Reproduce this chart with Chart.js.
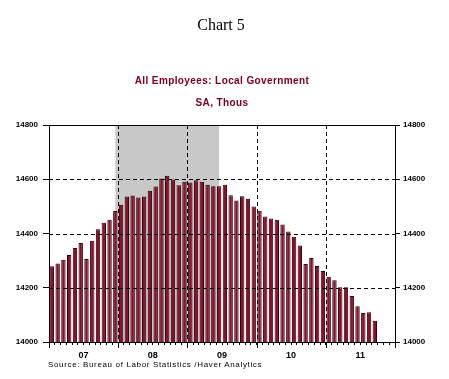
<!DOCTYPE html>
<html>
<head>
<meta charset="utf-8">
<script src="https://cdn.jsdelivr.net/npm/chart.js"></script>
<style>
  body { margin: 0; background: #fff; }
  #wrap { position: relative; width: 449px; height: 379px; }
  canvas { position: absolute; left: 0; top: 0; }
  .txt { position: absolute; white-space: nowrap; }
  #chartNo { left: 0; width: 442px; top: 16px; text-align: center; font: 16px "Liberation Serif", serif; color: #000; }
  .red { left: 0; width: 444px; text-align: center; font: bold 10px "Liberation Sans", Arial, sans-serif; color: #800024; letter-spacing: 0.4px; }
  #src { left: 48px; top: 360px; font: 8px "Liberation Sans", Arial, sans-serif; color: #000; letter-spacing: 0.65px; }
</style>
</head>
<body>
<div id="wrap">
  <canvas id="c" width="449" height="379"></canvas>
  <div class="txt" id="chartNo">Chart 5</div>
  <div class="txt red" style="top:75px">All Employees: Local Government</div>
  <div class="txt red" style="top:97px">SA, Thous</div>
  <div class="txt" id="src">Source:  Bureau of Labor Statistics /Haver Analytics</div>
</div>
<script>
// années affichées sur l'axe x (jan 2007 - déc 2011)
const years = ['07', '08', '09', '10', '11'];
const months = ['Jan', 'Feb', 'Mar', 'Apr', 'May', 'Jun', 'Jul', 'Aug', 'Sep', 'Oct', 'Nov', 'Dec'];
const monthLabels = years.flatMap(yy => months.map(m => m + ' ' + yy));

// Emploi administrations locales, milliers (jan 2007 - sep 2011)
const localGov = [
  14279, 14289, 14303, 14321, 14347, 14365, 14306, 14373, 14416, 14440, 14451, 14483,
  14506, 14536, 14540, 14533, 14536, 14558, 14573, 14603, 14613, 14599, 14578, 14591,
  14588, 14596, 14591, 14580, 14574, 14574, 14580, 14541, 14522, 14537, 14528, 14500,
  14484, 14463, 14455, 14451, 14433, 14407, 14388, 14356, 14288, 14310, 14280, 14262,
  14241, 14228, 14202, 14202, 14170, 14132, 14107, 14110, 14078
];

// récession : déc 2007 -> juin 2009 (index des mois)
const recession = [11, 29];
const yTicks = [14000, 14200, 14400, 14600, 14800];
const gridValues = [14200, 14400, 14600];

const tickFont = { family: 'Liberation Sans', size: 8, weight: 'bold' };

const decor = {
  id: 'decor',
  beforeDatasetsDraw(chart) {
    const { ctx, chartArea: a, scales: { x } } = chart;
    ctx.save();
    ctx.fillStyle = '#c8c8c8';
    const x0 = x.getPixelForValue(recession[0]);
    const x1 = x.getPixelForValue(recession[1]);
    ctx.fillRect(x0, a.top, x1 - x0, a.bottom - a.top);
    ctx.restore();
  },
  afterDatasetsDraw(chart) {
    const { ctx, chartArea: a, scales: { x, y } } = chart;
    ctx.save();
    ctx.strokeStyle = '#000';
    ctx.lineWidth = 1;
    ctx.setLineDash([4, 3]);
    gridValues.forEach(v => {
      const py = Math.round(y.getPixelForValue(v)) + 0.5;
      ctx.beginPath(); ctx.moveTo(a.left, py); ctx.lineTo(a.right, py); ctx.stroke();
    });
    for (let i = 0; i < years.length; i++) {
      const px = Math.round(x.getPixelForValue(i * 12 - 0.5)) + 0.5;
      ctx.beginPath(); ctx.moveTo(px, a.top); ctx.lineTo(px, a.bottom); ctx.stroke();
    }
    // cadre du haut + grands traits des années
    ctx.setLineDash([]);
    ctx.beginPath();
    ctx.moveTo(a.left, Math.round(a.top) + 0.5);
    ctx.lineTo(a.right, Math.round(a.top) + 0.5);
    ctx.stroke();
    for (let i = 0; i <= years.length; i++) {
      const px = Math.round(x.getPixelForValue(i * 12 - 0.5)) + 0.5;
      ctx.beginPath(); ctx.moveTo(px, a.bottom); ctx.lineTo(px, a.bottom + 6); ctx.stroke();
    }
    ctx.restore();
  }
};

const config = {
  type: 'bar',
  data: {
    labels: monthLabels,
    datasets: [{
      label: 'All Employees: Local Government',
      data: localGov,
      backgroundColor: '#8e0f2c',
      borderColor: '#2a0008',
      borderWidth: 1,
      barPercentage: 0.76,
      categoryPercentage: 1
    }]
  },
  options: {
    responsive: false,
    animation: false,
    layout: { padding: { top: 125, left: 0, right: 0, bottom: 0 } },
    plugins: { legend: { display: false }, tooltip: { enabled: false } },
    scales: {
      x: {
        offset: true,
        grid: { offset: true, drawOnChartArea: false, tickLength: 3, color: '#000' },
        border: { display: true, color: '#000' },
        ticks: {
          autoSkip: false, maxRotation: 0, minRotation: 0,
          padding: 5, labelOffset: -3, color: '#000',
          font: { family: 'Liberation Sans', size: 9, weight: 'bold' },
          callback: (v, i) => (i % 12 === 6 ? years[Math.floor(i / 12)] : '')
        },
        afterFit: s => { s.height = 37; }
      },
      y: {
        position: 'left',
        min: 14000, max: 14800,
        afterBuildTicks: s => { s.ticks = yTicks.map(v => ({ value: v })); },
        grid: { drawOnChartArea: false, tickLength: 6, color: '#000' },
        border: { display: true, color: '#000', dash: [4, 3] },
        ticks: { padding: 5, color: '#000', font: tickFont, callback: v => String(v) },
        afterFit: s => { s.width = 49; }
      },
      y2: {
        position: 'right',
        min: 14000, max: 14800,
        afterBuildTicks: s => { s.ticks = yTicks.map(v => ({ value: v })); },
        grid: { drawOnChartArea: false, tickLength: 5, color: '#000' },
        border: { display: true, color: '#000' },
        ticks: { padding: 3, color: '#000', font: tickFont, callback: v => String(v) },
        afterFit: s => { s.width = 54; }
      }
    }
  },
  plugins: [decor]
};

const chart = new Chart(document.getElementById('c').getContext('2d'), config);
</script>
</body>
</html>
